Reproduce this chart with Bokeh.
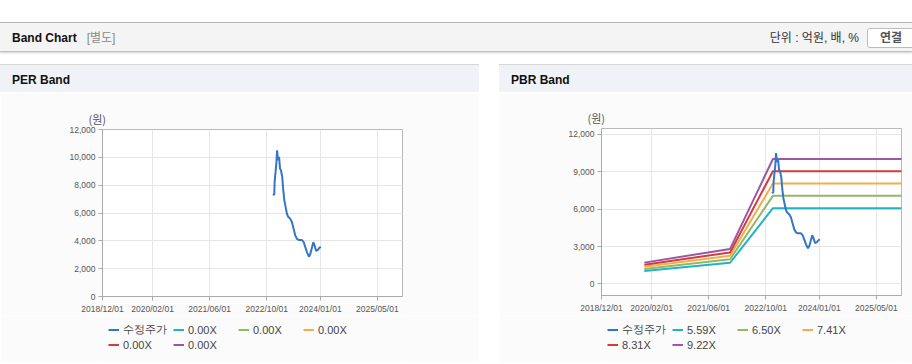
import math
import pandas as pd
from bokeh.plotting import figure
from bokeh.models import (ColumnDataSource, Range1d, FixedTicker, DatetimeTickFormatter,
                          NumeralTickFormatter, Legend, LegendItem, Title, Div, Spacer)
from bokeh.layouts import column, row
from bokeh.embed import file_html
from bokeh.resources import INLINE

# ---------------- data ----------------
X_TICK_LABELS = ["2018/12/01", "2020/02/01", "2021/06/01", "2022/10/01", "2024/01/01", "2025/05/01"]
X_START = "2018-12-01"
X_END = "2025-12-01"

PER_Y_TICKS = [0, 2000, 4000, 6000, 8000, 10000, 12000]
PBR_Y_TICKS = [0, 3000, 6000, 9000, 12000]

price_dates = ["2022-11-21", "2022-12-04", "2022-12-07", "2022-12-15", "2022-12-22", "2022-12-28",
               "2023-01-05", "2023-01-14", "2023-01-22", "2023-01-30", "2023-02-10", "2023-02-19",
               "2023-02-28", "2023-03-11", "2023-03-22", "2023-03-31", "2023-04-20", "2023-05-04",
               "2023-05-18", "2023-06-01", "2023-06-16", "2023-06-30", "2023-07-28", "2023-08-12",
               "2023-08-26", "2023-09-09", "2023-09-26", "2023-10-07", "2023-10-22", "2023-11-02",
               "2023-11-13", "2023-11-25", "2023-12-09", "2023-12-23", "2024-01-04"]
price_values = [7310, 7330, 8220, 8950, 9600, 10510,
                9790, 10030, 9190, 9070, 8590, 7620,
                6900, 6420, 5940, 5750, 5580, 5340,
                4860, 4380, 4140, 4060, 4060, 3900,
                3540, 3170, 2860, 3050, 3540, 3900,
                3660, 3290, 3340, 3490, 3580]

band_dates = ["2019-12-01", "2021-12-01", "2022-12-01", "2025-12-31"]

per_band_labels = ["0.00X", "0.00X", "0.00X", "0.00X", "0.00X"]
per_band_values = [[None, None, None, None]] * 5

pbr_band_labels = ["5.59X", "6.50X", "7.41X", "8.31X", "9.22X"]
pbr_band_values = [
    [1030, 1700, 6080, 6080],
    [1200, 1980, 7070, 7070],
    [1370, 2260, 8060, 8060],
    [1540, 2530, 9040, 9040],
    [1710, 2810, 10030, 10030],
]
price_label = "수정주가"

# ---------------- styles ----------------
PRICE_COLOR = "#3575c6"
BAND_COLORS = ["#22b3c3", "#8fb964", "#f0ae4f", "#d43b3b", "#9a57a4"]
FONT = "Liberation Sans"
TICK_COLOR = "#555555"
PANEL_BG = "#fbfbfb"


def to_dt(lst):
    return pd.to_datetime(pd.Series(lst))


def make_fig(width, height, left, right, top, bottom, y_start, y_end, y_ticks, band_labels, band_values):
    p = figure(width=width, height=height, x_axis_type="datetime",
               x_range=Range1d(pd.Timestamp(X_START), pd.Timestamp(X_END)),
               y_range=Range1d(y_start, y_end),
               output_backend="svg", toolbar_location=None, title=None,
               min_border_left=left, min_border_right=right,
               min_border_top=top, min_border_bottom=bottom, margin=0)
    p.border_fill_color = PANEL_BG
    p.background_fill_color = "#ffffff"
    p.outline_line_color = "#b9b9b9"
    p.outline_line_width = 1

    tick_ms = [pd.Timestamp(s.replace("/", "-")).value / 1e6 for s in X_TICK_LABELS]
    p.xaxis.ticker = FixedTicker(ticks=tick_ms)
    fmt = "%Y/%m/%d"
    p.xaxis.formatter = DatetimeTickFormatter(milliseconds=fmt, seconds=fmt, minsec=fmt, minutes=fmt,
                                              hourmin=fmt, hours=fmt, days=fmt, months=fmt, years=fmt)
    p.yaxis.ticker = FixedTicker(ticks=y_ticks)
    p.yaxis.formatter = NumeralTickFormatter(format="0,0")

    for ax in (p.xaxis[0], p.yaxis[0]):
        ax.axis_line_color = "#aaaaaa"
        ax.major_tick_line_color = "#aaaaaa"
        ax.major_tick_out = 4
        ax.major_tick_in = 0
        ax.minor_tick_line_color = None
        ax.major_label_text_font = FONT
        ax.major_label_text_font_size = "8.5px"
        ax.major_label_text_color = TICK_COLOR
        ax.major_label_standoff = 3

    p.xgrid.ticker = FixedTicker(ticks=tick_ms)
    p.ygrid.ticker = FixedTicker(ticks=y_ticks)
    p.grid.grid_line_color = "#e6e6e6"
    p.grid.grid_line_width = 1

    sources = []
    psrc = ColumnDataSource(dict(x=to_dt(price_dates), y=price_values))
    sources.append((price_label, PRICE_COLOR, psrc))
    for lab, vals, col in zip(band_labels, band_values, BAND_COLORS):
        yv = [math.nan if v is None else v for v in vals]
        src = ColumnDataSource(dict(x=to_dt(band_dates), y=yv))
        p.line("x", "y", source=src, line_color=col, line_width=2)
        sources.append((lab, col, src))
    p.line("x", "y", source=psrc, line_color=PRICE_COLOR, line_width=2)

    p.add_layout(Title(text="(원)", align="left", offset=-14, text_font="Noto Sans CJK KR",
                       text_font_size="11px", text_font_style="normal", text_color="#555555",
                       standoff=5), "above")

    # legend strip (own small figure below the chart); its ranges keep the data out of view
    lg = figure(width=width, height=46, output_backend="svg", toolbar_location=None, title=None,
                x_axis_location=None, y_axis_location=None, min_border=0, margin=0,
                x_range=Range1d(0, 1), y_range=Range1d(0, 1))
    lg.grid.visible = False
    lg.outline_line_color = None
    lg.background_fill_color = PANEL_BG
    lg.border_fill_color = PANEL_BG
    items = []
    for lab, col, src in sources:
        rr = lg.line("x", "y", source=src, line_color=col, line_width=2)
        items.append(LegendItem(label=lab, renderers=[rr]))
    legend = Legend(items=items, orientation="horizontal", ncols=4,
                    location=(6, 11), padding=0, margin=0, spacing=1,
                    glyph_width=11, glyph_height=13, label_height=13, label_width=49,
                    label_standoff=4, label_text_font=FONT, label_text_font_size="11px",
                    label_text_line_height=1.0,
                    label_text_color="#444444", border_line_color=None,
                    background_fill_alpha=0)
    lg.add_layout(legend, "center")
    return column(p, lg, spacing=0, margin=0)


c_per = make_fig(479, 223, 102, 77, 36, 20, 0, 12000, PER_Y_TICKS,
                 per_band_labels, per_band_values)
c_pbr = make_fig(413, 223, 102, 11, 35, 21, -930, 12480, PBR_Y_TICKS,
                 pbr_band_labels, pbr_band_values)

header_html = """
<div style="position:relative;width:912px;height:93px;overflow:hidden;background:#ffffff;font-family:'Liberation Sans','Noto Sans CJK KR',sans-serif;">
 <div style="position:absolute;left:0;top:22px;width:912px;height:30px;background:#f4f4f4;border-top:1px solid #b4b4b4;border-bottom:1px solid #c2c2c2;box-shadow:0 1px 2px rgba(0,0,0,0.18);"></div>
 <div style="position:absolute;left:12px;top:30px;font-size:12px;line-height:16px;font-weight:bold;color:#111111;white-space:nowrap;">Band Chart<span style="font-weight:normal;color:#8a8a8a;margin-left:10px;">[별도]</span></div>
 <div style="position:absolute;right:53px;top:30px;font-size:12px;line-height:16px;color:#333333;white-space:nowrap;">단위 : 억원, 배, %</div>
 <div style="position:absolute;left:867px;top:28px;width:50px;height:18px;border:1px solid #bdbdbd;border-radius:3px;background:#ffffff;font-size:12px;line-height:18px;font-weight:bold;color:#555555;padding-left:12px;box-sizing:content-box;white-space:nowrap;">연결</div>
 <div style="position:absolute;left:0;top:64px;width:479px;height:28px;background:#eff3f8;border-top:1px solid #d6d6d6;"></div>
 <div style="position:absolute;left:499px;top:64px;width:413px;height:28px;background:#eff3f8;border-top:1px solid #d6d6d6;"></div>
 <div style="position:absolute;left:12px;top:72px;font-size:12px;line-height:16px;font-weight:bold;color:#111111;">PER Band</div>
 <div style="position:absolute;left:511px;top:72px;font-size:12px;line-height:16px;font-weight:bold;color:#111111;">PBR Band</div>
</div>
"""
header = Div(text=header_html, width=912, height=93, margin=0)

bottom_html = """
<div style="position:relative;width:912px;height:2px;overflow:hidden;">
 <div style="position:absolute;left:0;top:0;width:479px;height:2px;background:#d0d0d0;"></div>
 <div style="position:absolute;left:499px;top:0;width:413px;height:2px;background:#d0d0d0;"></div>
</div>
"""
bottom = Div(text=bottom_html, width=912, height=2, margin=0)

layout = column(header, row(c_per, Spacer(width=20, height=269, margin=0), c_pbr, spacing=0),
                bottom, spacing=0, margin=0)

open("out.html", "w").write(file_html(layout, INLINE))
